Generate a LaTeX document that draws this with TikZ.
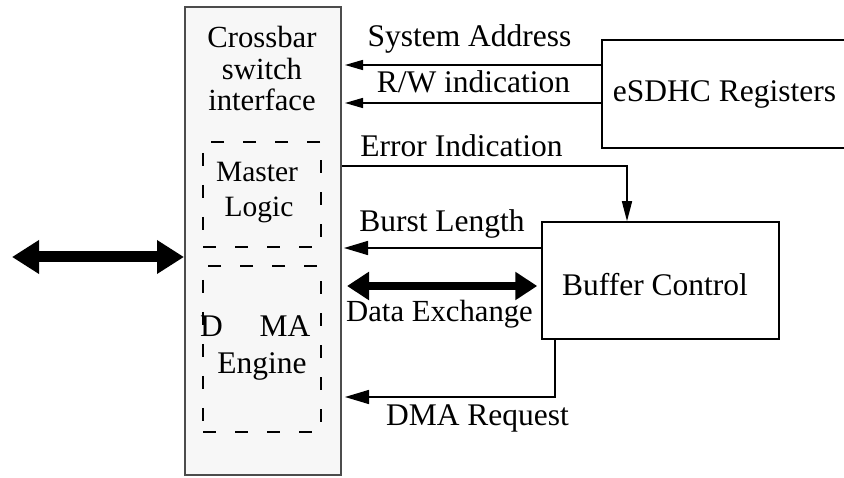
\documentclass[tikz,border=0pt]{standalone}
\usepackage{fontspec}
\setmainfont{Liberation Serif}
\usetikzlibrary{arrows.meta}
\begin{document}
\begin{tikzpicture}[x=1pt,y=-1pt,
  txt/.style={font=\fontsize{31.5}{34}\selectfont, inner sep=0pt, anchor=base},
  txtm/.style={font=\fontsize{29.5}{34}\selectfont, inner sep=0pt, anchor=base},
  txtc/.style={font=\fontsize{30.7}{34}\selectfont, inner sep=0pt, anchor=base},
  box/.style={draw, line width=1.5pt, inner sep=0pt},
  dbox/.style={draw, line width=1.5pt, dash pattern=on 13pt off 19pt, inner sep=0pt},
  sigs/.style={line width=1.5pt, -{Triangle[length=18pt,width=10pt]}},
  sig/.style={line width=1.5pt, -{Triangle[length=24pt,width=14pt]}},
  sigd/.style={line width=1.5pt, -{Triangle[length=20pt,width=10pt]}},
  bus/.style={line width=8pt, {Triangle[length=22pt,width=27pt]}-{Triangle[length=22pt,width=27pt]}},
  busw/.style={line width=11pt, {Triangle[length=27pt,width=32pt]}-{Triangle[length=27pt,width=32pt]}}
]
\useasboundingbox (0,0) rectangle (844,478);
% main crossbar block
\node[box, draw=black!70, line width=2pt, fill=black!3, minimum width=156pt, minimum height=468pt] (main) at (263,241) {};
\node[dbox, minimum width=118pt, minimum height=105pt] (master) at (262,194.5) {};
\node[dbox, minimum width=118pt, minimum height=166pt] (dma) at (262,349) {};
% other blocks
\node[box, minimum width=248pt, minimum height=108pt] (esdhc) at (726,94) {};
\node[box, minimum width=237pt, minimum height=117pt] (buffer) at (660.5,280.5) {};
% texts in blocks
\node[txtc] (t1) at (262,48) {Crossbar};
\node[txtc] (t2) at (262,80) {switch};
\node[txtc] (t3) at (262,111) {interface};
\node[txtm] (t4) at (257,182) {Master};
\node[txtm] (t5) at (259,217) {Logic};
\node[txt] (t6) at (211.5,337) {D};
\node[txt] (t7) at (285,337) {MA};
\node[txt] (t8) at (262,374) {Engine};
\node[txt] (t9) at (724.5,102) {eSDHC Registers};
\node[txt] (t10) at (655,296) {Buffer Control};
% signal labels
\node[txt] (l1) at (469.5,47) {System Address};
\node[txt] (l2) at (473.5,93) {R/W indication};
\node[txt] (l3) at (461.5,157) {Error Indication};
\node[txt] (l4) at (442,232) {Burst Length};
\node[txtc] (l5) at (439.5,322) {Data Exchange};
\node[txt] (l6) at (477.5,425) {DMA Request};
% connectors
\draw[sigs] (esdhc.west |- 0,65) -- ([xshift=3pt]main.east |- 0,65);
\draw[sigs] (esdhc.west |- 0,103) -- ([xshift=3pt]main.east |- 0,103);
\draw[sigd] (main.east |- 0,166) -| (627,0 |- buffer.north);
\draw[sig] (buffer.west |- 0,248) -- ([xshift=2pt]main.east |- 0,248);
\draw[bus] ([xshift=5pt]main.east |- 0,286) -- ([xshift=-4pt]buffer.west |- 0,286);
\draw[sig] (555,0 |- buffer.south) |- ([xshift=3pt]main.east |- 0,397);
\coordinate (ext) at (12,257);
\draw[busw] (ext) -- (main.west |- ext);
\end{tikzpicture}
\end{document}
